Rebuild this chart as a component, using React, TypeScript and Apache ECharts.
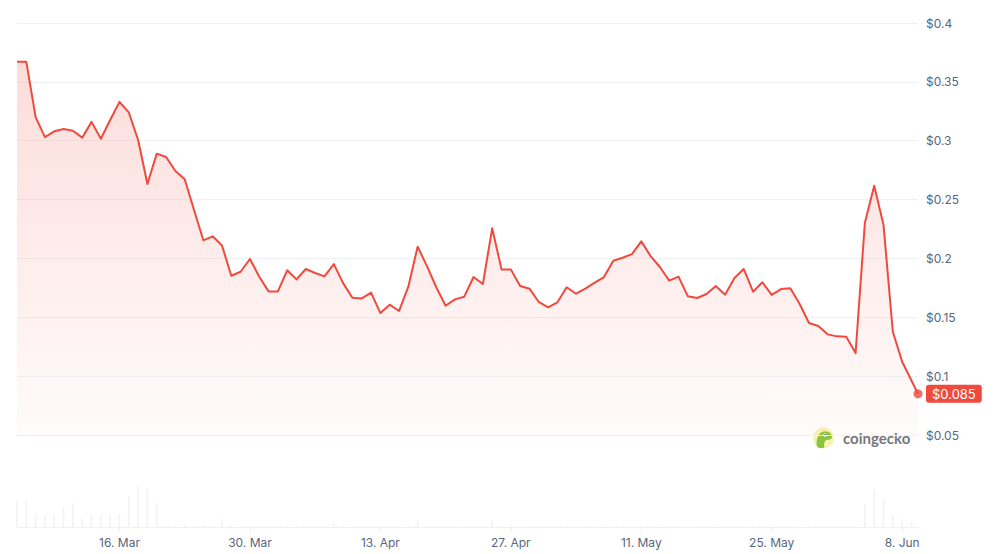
import React, { useEffect, useRef } from "react";
import * as echarts from "echarts";

// Daily price (USD); one value per day starting 5 Mar, the last one is the live price
const prices: number[] = [
  0.367, 0.367, 0.32, 0.303, 0.308, 0.31, 0.3085, 0.3026, 0.316, 0.3017,
  0.3176, 0.333, 0.324, 0.3006, 0.2632, 0.289, 0.2862, 0.2743, 0.2672, 0.2411,
  0.2154, 0.2188, 0.211, 0.1853, 0.1887, 0.1995, 0.1845, 0.172, 0.172, 0.1899,
  0.1822, 0.191, 0.1876, 0.1848, 0.1952, 0.179, 0.1666, 0.166, 0.171, 0.1536,
  0.1607, 0.1553, 0.176, 0.21, 0.1935, 0.1755, 0.1598, 0.1652, 0.1675, 0.1842,
  0.1783, 0.2256, 0.1907, 0.1907, 0.1766, 0.1743, 0.163, 0.1585, 0.1627, 0.1755,
  0.17, 0.1743, 0.1794, 0.1842, 0.198, 0.2006, 0.2037, 0.2145, 0.202, 0.1927,
  0.1812, 0.1845, 0.1678, 0.1664, 0.1698, 0.1766, 0.1692, 0.1834, 0.191, 0.1717,
  0.1797, 0.169, 0.174, 0.1746, 0.1613, 0.1451, 0.1426, 0.1355, 0.1338, 0.1335,
  0.1196, 0.2303, 0.2618, 0.2284, 0.1377, 0.1122, 0.085,
];
// The final (live) point sits part-way through its day
const lastDayOffset = 96.7;

// Daily trading volume (relative units)
const volumes: number[] = [
  26.7, 26.7, 13.3, 11.7, 11.7, 20.7, 23.7, 8.3, 12.7, 11.7,
  11.7, 12.7, 31, 41, 37.7, 23.7, 1.5, 1.5, 1.8, 1.5,
  2, 1.5, 7.7, 1.8, 1.2, 1.5, 1.5, 1.2, 1.5, 1.2,
  1.5, 1.5, 1.2, 1.2, 3.7, 1.2, 1.5, 1, 1, 1,
  1.5, 1.2, 1.5, 6.7, 1.5, 1.2, 1, 1, 1.5, 1.2,
  1.5, 6.7, 1.5, 1.8, 1, 1, 1, 1, 1, 1.5,
  1, 1, 1, 1.5, 1.2, 1.5, 1.5, 1.5, 1, 1,
  1, 1, 1, 1, 1, 1.5, 1.2, 1, 1.5, 1.2,
  1.5, 1.5, 1, 1.5, 1.5, 1.5, 1.5, 1, 1, 1,
  1.5, 23.3, 37.7, 27.7, 12, 7.7, 5,
];

// Tick positions (day offsets) and their labels
const tickDays: number[] = [11, 25, 39, 53, 67, 81, 95];
const tickLabels: string[] = ["16. Mar", "30. Mar", "13. Apr", "27. Apr", "11. May", "25. May", "8. Jun"];

const priceTicks = { min: 0.05, max: 0.4, interval: 0.05 };
const currentLabel = "$0.085";

const RED = "#ef4a3d";
const TEXT = "#58667e";
const GRID = "#eff2f5";

echarts.graphic.registerShape(
  "geckoHead",
  echarts.graphic.extendPath(
    "M -7 9 C -8 2 -6 -6 1 -7 C 6 -7 9 -4 9 -1 C 9 1 6 2 3 2 C 1 3 0 6 1 10 C -2 11 -5 11 -7 9 Z",
    {}
  )
);

export default function App() {
  const ref = useRef<HTMLDivElement>(null);

  useEffect(() => {
    if (!ref.current) return;
    const chart = echarts.init(ref.current, null, { renderer: "svg" });
    const last = prices.length - 1;
    const priceData = prices.map((p, i) => [i === last ? lastDayOffset : i, p]);
    const volumeData = volumes.map((v, i) => [i, v]);

    chart.setOption({
      animation: false,
      backgroundColor: "#ffffff",
      textStyle: { fontFamily: "Inter, 'Noto Sans', sans-serif" },
      grid: [
        { left: 17, right: 85, top: 23, height: 412 },
        { left: 17, right: 85, top: 481, height: 46 },
      ],
      xAxis: [
        {
          type: "value",
          gridIndex: 0,
          min: 0,
          max: lastDayOffset,
          show: false,
          splitLine: { show: false },
        },
        {
          type: "value",
          gridIndex: 1,
          min: 0,
          max: lastDayOffset,
          axisLine: { show: true, lineStyle: { color: GRID, width: 1 } },
          axisTick: {
            show: true,
            customValues: tickDays,
            length: 5,
            lineStyle: { color: GRID },
          },
          axisLabel: {
            show: true,
            customValues: tickDays,
            color: TEXT,
            fontSize: 12,
            margin: 9,
            formatter: (v: number) => tickLabels[tickDays.indexOf(Math.round(v))] ?? "",
          },
          splitLine: { show: false },
        },
      ],
      yAxis: [
        {
          type: "value",
          gridIndex: 0,
          position: "right",
          min: priceTicks.min,
          max: priceTicks.max,
          interval: priceTicks.interval,
          axisLine: { show: false },
          axisTick: { show: false },
          axisLabel: {
            color: TEXT,
            fontSize: 12,
            margin: 8,
            formatter: (v: number) => "$" + parseFloat(v.toFixed(2)),
          },
          splitLine: { show: true, lineStyle: { color: GRID, width: 1 } },
        },
        {
          type: "value",
          gridIndex: 1,
          min: 0,
          max: 46,
          show: false,
          splitLine: { show: false },
        },
      ],
      series: [
        {
          type: "bar",
          xAxisIndex: 1,
          yAxisIndex: 1,
          data: volumeData,
          barWidth: 1.6,
          itemStyle: { color: "#f1f2f5" },
          silent: true,
        },
        {
          type: "line",
          xAxisIndex: 0,
          yAxisIndex: 0,
          data: priceData,
          showSymbol: false,
          symbol: "none",
          lineStyle: { color: RED, width: 2, join: "round" },
          areaStyle: {
            origin: "start",
            color: new echarts.graphic.LinearGradient(0, 0, 0, 1, [
              { offset: 0, color: "rgba(239,74,61,0.27)" },
              { offset: 1, color: "rgba(239,74,61,0.03)" },
            ]),
          },
          endLabel: {
            show: true,
            formatter: () => currentLabel,
            color: "#ffffff",
            backgroundColor: RED,
            borderRadius: 3,
            padding: [3, 6, 2, 6],
            fontSize: 13,
            distance: 8,
          },
          z: 3,
        },
        {
          type: "scatter",
          xAxisIndex: 0,
          yAxisIndex: 0,
          data: [priceData[last]],
          symbol: "circle",
          symbolSize: 9,
          itemStyle: { color: RED },
          z: 4,
          silent: true,
        },
      ],
      graphic: [
        {
          type: "group",
          x: 823.5,
          y: 438,
          children: [
            { type: "circle", shape: { cx: 0, cy: 0, r: 10.5 }, style: { fill: "#f8f1b4" } },
            { type: "geckoHead", x: 0, y: 0, scaleX: 0.95, scaleY: 0.95, style: { fill: "#8bc53f" } },
            { type: "circle", shape: { cx: 1.5, cy: -3, r: 1.8 }, style: { fill: "#ffffff" } },
            { type: "circle", shape: { cx: 1.8, cy: -3, r: 0.9 }, style: { fill: "#3d3d3d" } },
          ],
        },
        {
          type: "text",
          x: 843,
          y: 438,
          style: {
            text: "coingecko",
            fill: "#74787e",
            fontSize: 15,
            fontWeight: "bold",
            fontFamily: "Lato, Inter, sans-serif",
            textVerticalAlign: "middle",
            verticalAlign: "middle",
          },
        },
      ],
    });

    return () => chart.dispose();
  }, []);

  return (
    <div
      ref={ref}
      style={{ position: "absolute", left: 0, top: 0, width: 1003, height: 554 }}
    />
  );
}
